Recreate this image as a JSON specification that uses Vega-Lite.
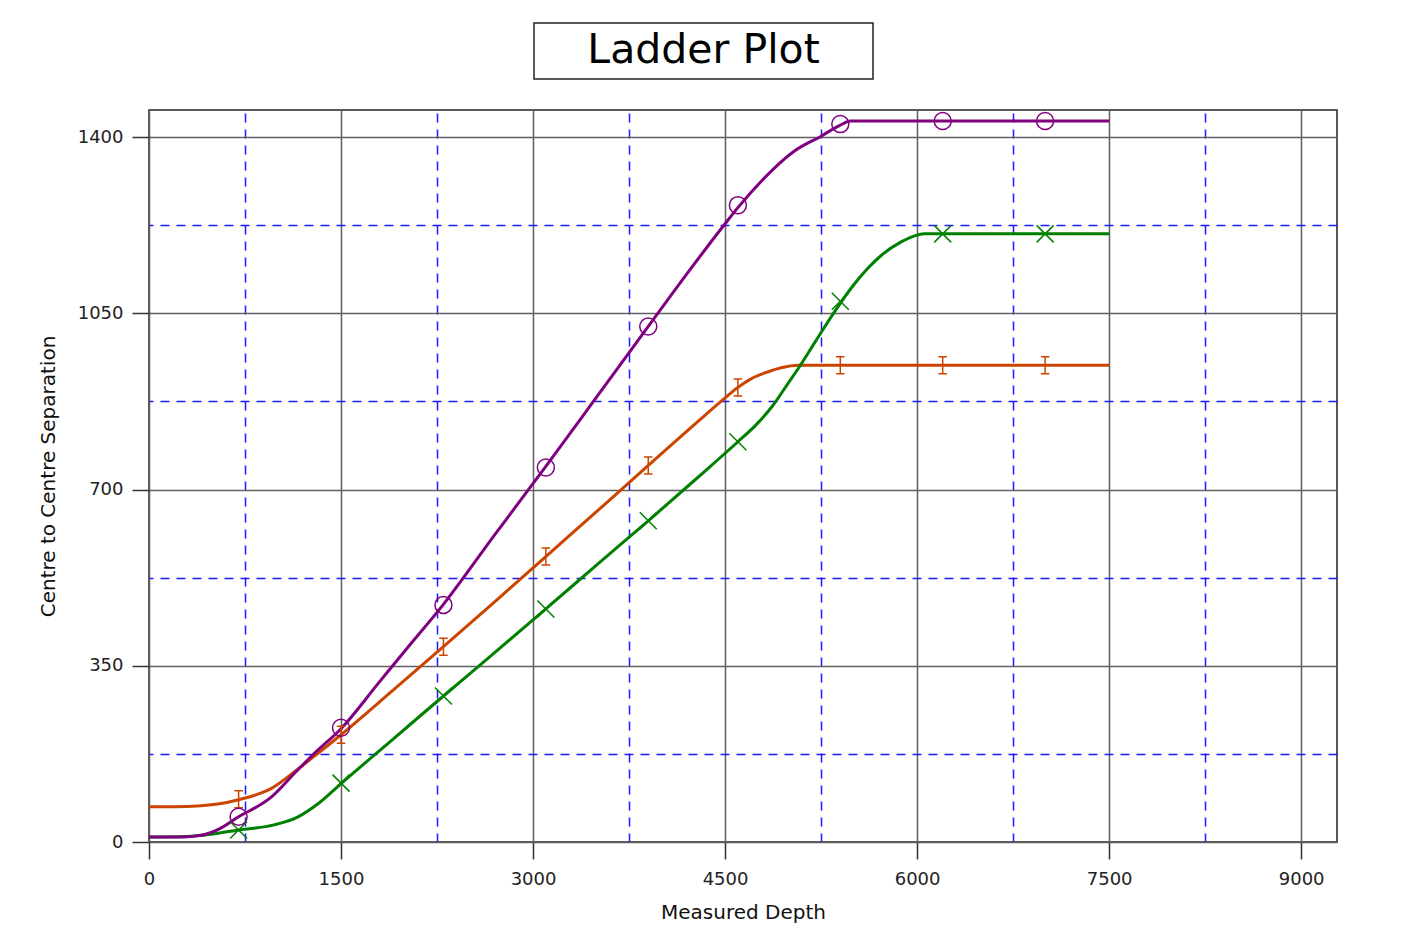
{
  "$schema": "https://vega.github.io/schema/vega-lite/v6.json",
  "background": "white",
  "padding": {"left": 37, "top": 22, "right": 5, "bottom": 5},
  "bounds": "flush",
  "spacing": 87,
  "config": {
    "view": {"stroke": "#222222", "strokeWidth": 1.5},
    "font": "DejaVu Sans"
  },
  "datasets": {
    "curves": [
      {"series": "C", "depth": 0, "sep": 70}, {"series": "C", "depth": 200, "sep": 70}, {"series": "C", "depth": 406, "sep": 72},
      {"series": "C", "depth": 550, "sep": 76}, {"series": "C", "depth": 700, "sep": 84}, {"series": "C", "depth": 953, "sep": 106},
      {"series": "C", "depth": 1164, "sep": 145}, {"series": "C", "depth": 1300, "sep": 172}, {"series": "C", "depth": 1500, "sep": 213},
      {"series": "C", "depth": 1900, "sep": 300}, {"series": "C", "depth": 2300, "sep": 388}, {"series": "C", "depth": 2700, "sep": 477},
      {"series": "C", "depth": 3100, "sep": 567}, {"series": "C", "depth": 3500, "sep": 657}, {"series": "C", "depth": 3900, "sep": 748},
      {"series": "C", "depth": 4300, "sep": 838}, {"series": "C", "depth": 4500, "sep": 882}, {"series": "C", "depth": 4600, "sep": 903},
      {"series": "C", "depth": 4703, "sep": 920}, {"series": "C", "depth": 4836, "sep": 934}, {"series": "C", "depth": 4938, "sep": 942},
      {"series": "C", "depth": 5070, "sep": 947}, {"series": "C", "depth": 7500, "sep": 947},

      {"series": "B", "depth": 0, "sep": 10}, {"series": "B", "depth": 300, "sep": 11}, {"series": "B", "depth": 500, "sep": 16},
      {"series": "B", "depth": 700, "sep": 24}, {"series": "B", "depth": 977, "sep": 34}, {"series": "B", "depth": 1164, "sep": 50},
      {"series": "B", "depth": 1320, "sep": 76}, {"series": "B", "depth": 1500, "sep": 116}, {"series": "B", "depth": 1900, "sep": 203},
      {"series": "B", "depth": 2300, "sep": 290}, {"series": "B", "depth": 2700, "sep": 376}, {"series": "B", "depth": 3100, "sep": 463},
      {"series": "B", "depth": 3500, "sep": 551}, {"series": "B", "depth": 3900, "sep": 638}, {"series": "B", "depth": 4300, "sep": 727},
      {"series": "B", "depth": 4600, "sep": 795}, {"series": "B", "depth": 4740, "sep": 828}, {"series": "B", "depth": 4870, "sep": 866},
      {"series": "B", "depth": 5000, "sep": 914}, {"series": "B", "depth": 5070, "sep": 940}, {"series": "B", "depth": 5200, "sep": 992},
      {"series": "B", "depth": 5352, "sep": 1052}, {"series": "B", "depth": 5484, "sep": 1100}, {"series": "B", "depth": 5617, "sep": 1140},
      {"series": "B", "depth": 5719, "sep": 1165}, {"series": "B", "depth": 5875, "sep": 1192}, {"series": "B", "depth": 6008, "sep": 1206},
      {"series": "B", "depth": 6060, "sep": 1208}, {"series": "B", "depth": 7500, "sep": 1208},

      {"series": "A", "depth": 0, "sep": 10}, {"series": "A", "depth": 250, "sep": 10}, {"series": "A", "depth": 420, "sep": 14},
      {"series": "A", "depth": 550, "sep": 26}, {"series": "A", "depth": 700, "sep": 50}, {"series": "A", "depth": 950, "sep": 88},
      {"series": "A", "depth": 1150, "sep": 140}, {"series": "A", "depth": 1300, "sep": 178}, {"series": "A", "depth": 1500, "sep": 225},
      {"series": "A", "depth": 1800, "sep": 318}, {"series": "A", "depth": 2000, "sep": 380}, {"series": "A", "depth": 2300, "sep": 472},
      {"series": "A", "depth": 2700, "sep": 610}, {"series": "A", "depth": 3100, "sep": 746}, {"series": "A", "depth": 3500, "sep": 885},
      {"series": "A", "depth": 3900, "sep": 1024}, {"series": "A", "depth": 4200, "sep": 1128}, {"series": "A", "depth": 4500, "sep": 1228},
      {"series": "A", "depth": 4600, "sep": 1260}, {"series": "A", "depth": 4781, "sep": 1312}, {"series": "A", "depth": 5039, "sep": 1372},
      {"series": "A", "depth": 5250, "sep": 1402}, {"series": "A", "depth": 5400, "sep": 1424}, {"series": "A", "depth": 5480, "sep": 1432},
      {"series": "A", "depth": 7500, "sep": 1432}
    ],
    "markers": [
      {"series": "C", "depth": 700, "sep": 85}, {"series": "C", "depth": 1500, "sep": 213}, {"series": "C", "depth": 2300, "sep": 388},
      {"series": "C", "depth": 3100, "sep": 567}, {"series": "C", "depth": 3900, "sep": 748}, {"series": "C", "depth": 4600, "sep": 903},
      {"series": "C", "depth": 5400, "sep": 947}, {"series": "C", "depth": 6200, "sep": 947}, {"series": "C", "depth": 7000, "sep": 947},
      {"series": "B", "depth": 700, "sep": 24}, {"series": "B", "depth": 1500, "sep": 117}, {"series": "B", "depth": 2300, "sep": 290},
      {"series": "B", "depth": 3100, "sep": 463}, {"series": "B", "depth": 3900, "sep": 638}, {"series": "B", "depth": 4600, "sep": 795},
      {"series": "B", "depth": 5400, "sep": 1074}, {"series": "B", "depth": 6200, "sep": 1208}, {"series": "B", "depth": 7000, "sep": 1208},
      {"series": "A", "depth": 700, "sep": 50}, {"series": "A", "depth": 1500, "sep": 227}, {"series": "A", "depth": 2300, "sep": 471},
      {"series": "A", "depth": 3100, "sep": 744}, {"series": "A", "depth": 3900, "sep": 1024}, {"series": "A", "depth": 4600, "sep": 1265},
      {"series": "A", "depth": 5400, "sep": 1426}, {"series": "A", "depth": 6200, "sep": 1432}, {"series": "A", "depth": 7000, "sep": 1432}
    ],
    "titleRow": [{"label": "Ladder Plot"}]
  },
  "vconcat": [
    {
      "bounds": "flush",
      "spacing": 10,
      "hconcat": [
        {
          "width": 375,
          "height": 56,
          "data": {"values": []},
          "mark": "text",
          "encoding": {},
          "view": {"stroke": null}
        },
        {
          "width": 339,
          "height": 56,
          "data": {"name": "titleRow"},
          "mark": {"type": "text", "font": "DejaVu Sans", "fontSize": 41, "color": "#000000", "dy": 0},
          "encoding": {"text": {"field": "label"}},
          "view": {"stroke": "#222222", "strokeWidth": 1.5}
        }
      ]
    },
    {
      "width": 1188,
      "height": 732,
      "resolve": {"axis": {"x": "independent", "y": "independent"}},
      "layer": [
        {
          "data": {"name": "curves"},
          "mark": {"type": "line", "strokeWidth": 3, "interpolate": "monotone"},
          "encoding": {
            "x": {
              "field": "depth", "type": "quantitative",
              "scale": {"domain": [0, 9280], "nice": false, "zero": false},
              "axis": {
                "orient": "bottom",
                "values": [0, 1500, 3000, 4500, 6000, 7500, 9000],
                "format": "d",
                "title": "Measured Depth",
                "titleFont": "DejaVu Sans", "titleFontSize": 20, "titleFontWeight": "normal", "titleColor": "#111111",
                "titleBaseline": "middle", "titleY": 70,
                "labelFont": "DejaVu Sans", "labelFontSize": 18, "labelColor": "#222222", "labelPadding": 11,
                "labelFlush": false, "labelOverlap": false,
                "tickSize": 17, "tickWidth": 1.5, "tickColor": "#333333",
                "domain": false,
                "grid": true, "gridColor": "#606060", "gridWidth": 1.5, "gridOpacity": 1
              }
            },
            "y": {
              "field": "sep", "type": "quantitative",
              "scale": {"domain": [0, 1454], "nice": false, "zero": false},
              "axis": {
                "orient": "left",
                "values": [0, 350, 700, 1050, 1400],
                "format": "d",
                "title": "Centre to Centre Separation",
                "titleFont": "DejaVu Sans", "titleFontSize": 20, "titleFontWeight": "normal", "titleColor": "#111111",
                "titleBaseline": "middle", "titleX": -101,
                "labelFont": "DejaVu Sans", "labelFontSize": 18, "labelColor": "#222222", "labelPadding": 9,
                "labelFlush": false, "labelOverlap": false,
                "tickSize": 17, "tickWidth": 1.5, "tickColor": "#333333",
                "domain": false,
                "grid": true, "gridColor": "#606060", "gridWidth": 1.5, "gridOpacity": 1
              }
            },
            "color": {
              "field": "series", "type": "nominal",
              "scale": {"domain": ["A", "B", "C"], "range": ["#800080", "#008000", "#cc4400"]},
              "legend": null
            },
            "order": {"field": "depth", "type": "quantitative"},
            "zindex": {"value": 1}
          }
        },
        {
          "data": {"name": "markers"},
          "mark": {"type": "point", "filled": false, "strokeWidth": 1.5, "opacity": 1, "size": 289},
          "encoding": {
            "x": {
              "field": "depth", "type": "quantitative",
              "axis": {
                "orient": "top", "values": [750, 2250, 3750, 5250, 6750, 8250],
                "labels": false, "ticks": false, "domain": false, "title": null,
                "grid": true, "gridColor": "#1a1aff", "gridWidth": 1.5, "gridDash": [9, 7], "gridOpacity": 1
              }
            },
            "y": {
              "field": "sep", "type": "quantitative",
              "axis": {
                "orient": "right", "values": [175, 525, 875, 1225],
                "labels": false, "ticks": false, "domain": false, "title": null,
                "grid": true, "gridColor": "#1a1aff", "gridWidth": 1.5, "gridDash": [9, 7], "gridOpacity": 1
              }
            },
            "color": {
              "field": "series", "type": "nominal",
              "scale": {"domain": ["A", "B", "C"], "range": ["#800080", "#008000", "#cc4400"]},
              "legend": null
            },
            "shape": {
              "field": "series", "type": "nominal",
              "scale": {"domain": ["A", "B", "C"], "range": ["circle", "M-1,-1L1,1M-1,1L1,-1", "M-0.5,-1L0.5,-1M0,-1L0,1M-0.5,1L0.5,1"]},
              "legend": null
            }
          }
        }
      ]
    }
  ]
}
